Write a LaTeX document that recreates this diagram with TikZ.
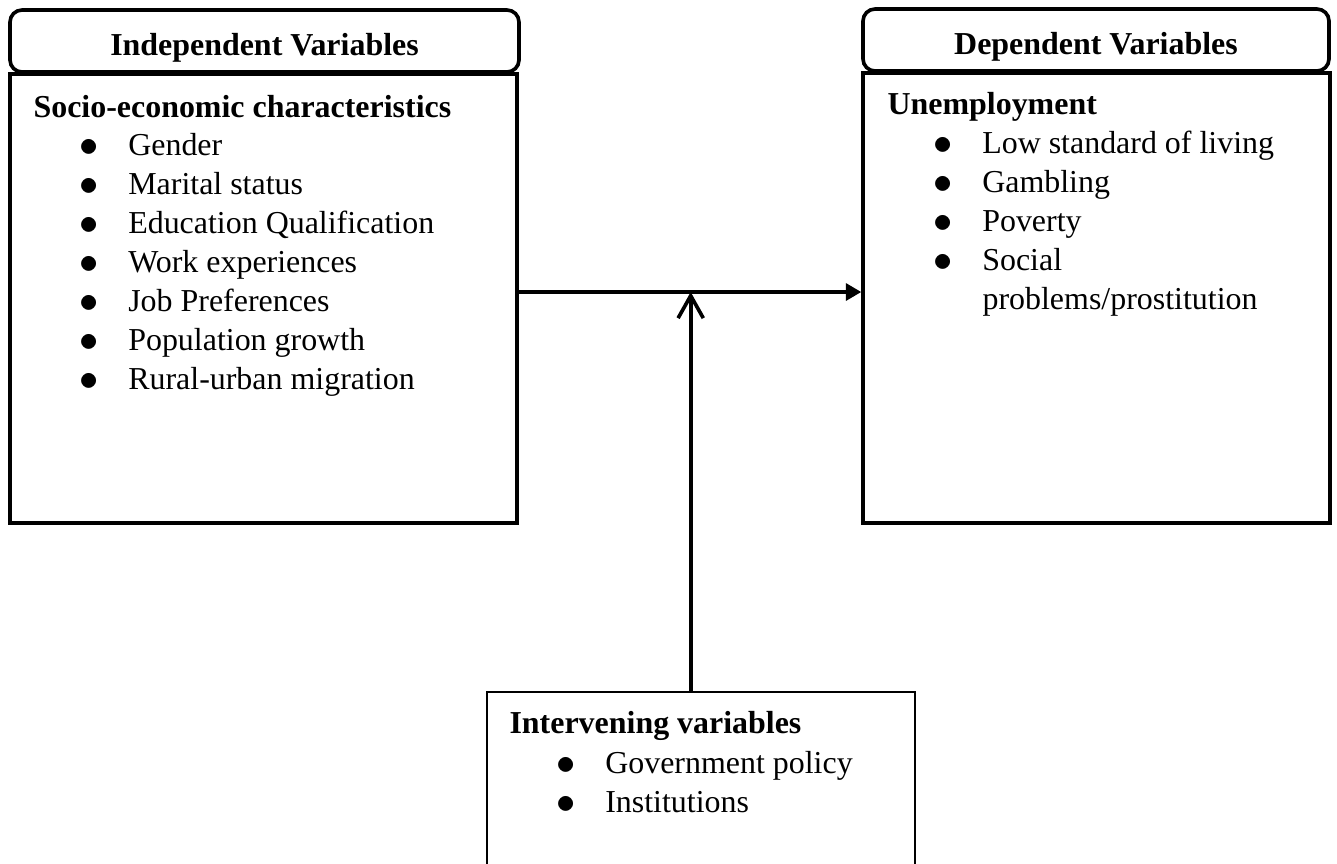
\documentclass[tikz,border=0pt]{standalone}
\usepackage{fontspec}
\setmainfont{Liberation Serif}
\usetikzlibrary{arrows.meta}
\newcommand{\pxu}{0.357pt}
\newcommand{\bul}[1]{\makebox[17.4pt][l]{\raisebox{-0.5pt}{\scalebox{1.25}{$\bullet$}}}#1}
\tikzset{
	headbox/.style={draw, line width=1.3pt, rounded corners=4.3pt, text height=10.2pt, text depth=0pt, font=\fontsize{11.4}{13.9}\selectfont\bfseries},
	bodybox/.style={draw, line width=1.2pt, inner sep=0pt},
	boxtitle/.style={anchor=base west, inner sep=0pt, font=\fontsize{11.4}{13.9}\selectfont\bfseries},
	listitem/.style={anchor=base west, inner sep=0pt, font=\fontsize{11.4}{13.9}\selectfont},
	link/.style={line width=1.3pt}
}
\begin{document}
\begin{tikzpicture}[x=\pxu, y=-\pxu]
	\useasboundingbox (0,0) rectangle (1337,863);
	%headers
	\node[headbox, minimum width=509*\pxu, minimum height=62*\pxu] (indephead) at (264.5,41) {Independent Variables};
	\node[headbox, minimum width=466*\pxu, minimum height=62*\pxu] (dephead) at (1096,40) {Dependent Variables};
	%bodies
	\node[bodybox, minimum width=507*\pxu, minimum height=449*\pxu] (indepbody) at (263.5,298.5) {};
	\node[bodybox, minimum width=467*\pxu, minimum height=450*\pxu] (depbody) at (1096.5,298) {};
	\node[bodybox, line width=0.8pt, minimum width=428*\pxu, minimum height=200*\pxu] (interv) at (701,792) {};
	
	%independent
	\node[boxtitle] (indeptitle) at (33,117) {Socio-economic characteristics};
	\foreach \txt [count=\i] in {Gender, Marital status, Education Qualification, Work experiences, Job Preferences, Population growth, Rural-urban migration} {
		\node[listitem] (indep\i) at (79,{155+39*(\i-1)}) {\bul{\txt}};
	}
	%dependent
	\node[boxtitle] (deptitle) at (887,114) {Unemployment};
	\foreach \txt [count=\i] in {Low standard of living, Gambling, Poverty, Social} {
		\node[listitem] (dep\i) at (933,{153+39*(\i-1)}) {\bul{\txt}};
	}
	\node[listitem] (dep5) at (982,309) {problems/prostitution};
	%intervening
	\node[boxtitle] (intervtitle) at (509,733) {Intervening variables};
	\node[listitem] (interv1) at (556,773) {\bul{Government policy}};
	\node[listitem] (interv2) at (556,812) {\bul{Institutions}};
	
	%arrows
	\coordinate (meet) at (690.7,292);
	\draw[link, -{Triangle[length=5.5pt,width=6pt]}] (indepbody.east |- meet) -- (depbody.west |- meet);
	\draw[link, -{Straight Barb[length=8pt,width=9pt]}] (interv.north -| meet) -- (meet);
\end{tikzpicture}
\end{document}
